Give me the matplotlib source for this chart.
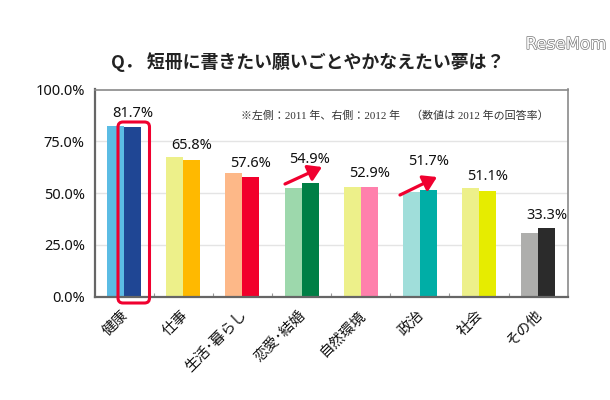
import matplotlib
matplotlib.use('Agg')
import matplotlib.pyplot as plt
import matplotlib.patheffects as pe
from matplotlib.patches import FancyBboxPatch, FancyArrowPatch
from matplotlib.transforms import Affine2D
import numpy as np

plt.rcParams['font.family'] = ['Noto Sans CJK JP', 'DejaVu Sans']

categories = ['健康', '仕事', '生活･暮らし', '恋愛･結婚', '自然環境', '政治', '社会', 'その他']
values_2011 = [82.4, 67.6, 59.9, 52.4, 53.0, 50.7, 52.3, 30.6]
values_2012 = [81.7, 65.8, 57.6, 54.9, 52.9, 51.7, 51.1, 33.3]
colors_2011 = ['#5BBCE4', '#EDF08A', '#FDB888', '#9DD8AC', '#EDF08A', '#A0DEDA', '#EDF08A', '#AEAEAC']
colors_2012 = ['#1F4694', '#FFB900', '#F2002B', '#007F45', '#FF80AC', '#00AEA6', '#E6EC00', '#2B2B2B']
label_lift_px = [14.4, 14.4, 13.4, 23, 14, 27.6, 14, 12.7]
y_ticks = [0, 25, 50, 75, 100]
y_labels = ['0.0%', '25.0%', '50.0%', '75.0%', '100.0%']
title = 'Q． 短冊に書きたい願いごとやかなえたい夢は？'
note = '※左側：2011 年、右側：2012 年　（数値は 2012 年の回答率）'

W, H = 610, 400
fig = plt.figure(figsize=(W / 100, H / 100), dpi=100, facecolor='white')
L, R, T, B = 94.5, 567.7, 89.5, 296.7
ax = fig.add_axes([L / W, 1 - B / H, (R - L) / W, (B - T) / H])
px = Affine2D().scale(1 / W, -1 / H).translate(0, 1) + fig.transFigure

x = np.arange(len(categories))
bw = 0.287
ax.bar(x - bw / 2, values_2011, bw, color=colors_2011, zorder=2)
ax.bar(x + bw / 2, values_2012, bw, color=colors_2012, zorder=2)

ax.set_xlim(-0.5, len(categories) - 0.5)
ax.set_ylim(0, 100)
ax.set_yticks(y_ticks)
ax.set_yticklabels(y_labels, fontsize=10.5, color='#111111', family=['Noto Sans', 'DejaVu Sans'])
ax.grid(axis='y', color='#E4E4E4', lw=1, zorder=0)
ax.set_axisbelow(True)
ax.tick_params(axis='y', length=0, pad=7)
ax.set_xticks(x[:-1] + 0.5, minor=True)
ax.tick_params(axis='x', which='minor', direction='in', length=3, width=0.8, color='#999999')
ax.set_xticks(x)
ax.set_xticklabels([])
ax.tick_params(axis='x', which='major', length=0)
for s in ax.spines.values():
    s.set_color('#8A8A8A')
    s.set_linewidth(1.2)
ax.spines['left'].set_color('#666666')
ax.spines['bottom'].set_color('#666666')
ax.spines['left'].set_linewidth(1.6)
ax.spines['bottom'].set_linewidth(1.6)

for xi, v, lift in zip(x, values_2012, label_lift_px):
    ax.annotate(f'{v:.1f}%', (xi + bw / 2, v), xytext=(0, lift * 0.72),
                textcoords='offset points', ha='center', va='center', fontsize=10.5,
                color='#111111', family=['Noto Sans', 'DejaVu Sans'], zorder=6)

trans = ax.get_xaxis_transform()
for xi, c in zip(x, categories):
    ax.annotate(c, (xi, 0), xycoords=trans, xytext=(-2, -8), textcoords='offset points',
                rotation=45, rotation_mode='anchor', ha='right', va='top',
                fontsize=10.5, color='#111111')

fig.text(307.5, 62.5, title, transform=px, ha='center', va='center', fontsize=12.9,
         fontweight='bold', color='#222222')
fig.text(395, 116, note, transform=px, ha='center', va='center', fontsize=7.9,
         color='#333333', family=['Liberation Serif', 'Noto Sans CJK JP'])

box = FancyBboxPatch((118, 122), 31.5, 181, boxstyle='round,pad=0,rounding_size=5',
                     transform=px, fc='none', ec='#F0002F', lw=2.2, zorder=5, clip_on=False,
                     mutation_aspect=1)
fig.add_artist(box)
for start, end in [((285, 184), (322, 167)), ((400, 195), (437, 177))]:
    fig.add_artist(FancyArrowPatch(start, end, transform=px, arrowstyle='-|>,head_length=8,head_width=5',
                                   color='#F0002F', lw=2.3, shrinkA=0, shrinkB=0, zorder=5,
                                   mutation_scale=1))

fig.text(566, 44, 'ReseMom', transform=px, ha='center', va='center', fontsize=12,
         color='white', family='DejaVu Sans',
         path_effects=[pe.withStroke(linewidth=1.0, foreground='#777777')])

fig.savefig('out.png', dpi=100)
